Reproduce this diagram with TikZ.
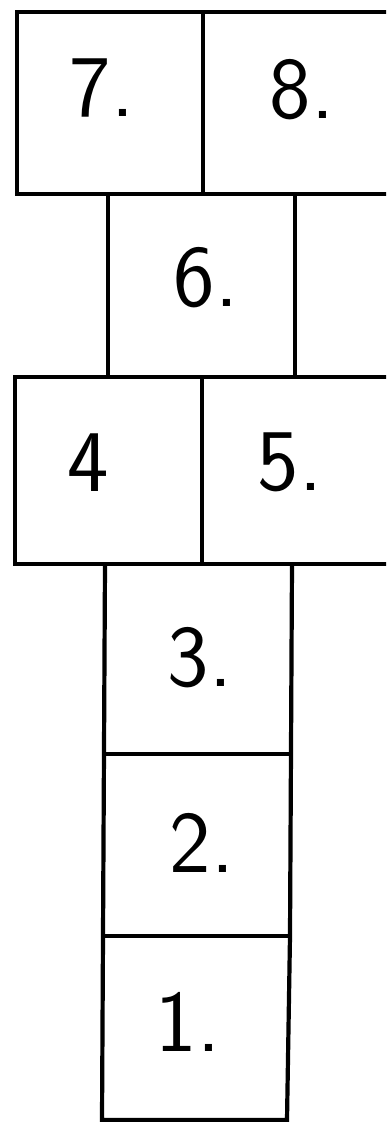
\documentclass[tikz,border=0pt]{standalone}
\begin{document}
\begin{tikzpicture}[x=1pt,y=-1pt]
		\tikzstyle{cell}=[draw=black, line width=4.2pt, line join=miter];
		\tikzstyle{num}=[font=\sffamily\fontsize{88}{90}\selectfont, inner sep=0pt];

		\clip (0,0) rectangle (386,1122);
		\fill[white] (0,0) rectangle (386,1122);

		% top row
		\draw[cell] (17,12) rectangle (400,194);
		\draw[cell] (203,12) -- (203,194);
		% single square
		\draw[cell] (108,194) -- (108,377);
		\draw[cell] (295,194) -- (295,377);
		% middle row
		\draw[cell] (15,377) rectangle (400,564);
		\draw[cell] (202,377) -- (202,564);
		% column of three
		\draw[cell] (105,564) -- (103,936) -- (102,1120) -- (287,1120) -- (290,936) -- (292,564);
		\draw[cell] (104,754) -- (291,754);
		\draw[cell] (103,936) -- (290,936);

		\node[num] (n7) at (102,88) {7.};
		\node[num] (n8) at (302,90) {8.};
		\node[num] (n6) at (206,278) {6.};
		\node[num] (n4) at (88,463) {4};
		\node[num] (n5) at (290,462) {5.};
		\node[num] (n3) at (200,658) {3.};
		\node[num] (n2) at (202,843) {2.};
		\node[num] (n1) at (188,1022) {1.};
        \end{tikzpicture}
\end{document}
